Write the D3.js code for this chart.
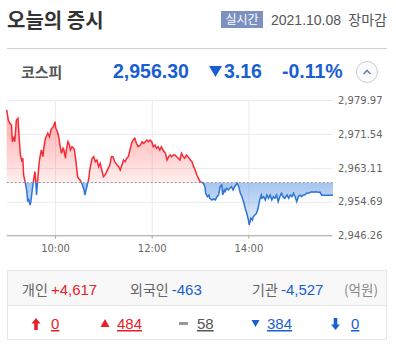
<!DOCTYPE html>
<html><head><meta charset="utf-8">
<script src="https://cdn.jsdelivr.net/npm/d3@7"></script>
<style>body{margin:0;background:#fff;overflow:hidden}</style>
</head><body><svg id="c" width="396" height="348"></svg>
<script>
// minutes after 09:00
const minutes = [0,2,4,6,7,9,10,12,14,15,17,19,20,21,23,25,26,27,29,30,32,34,35,36,37,38,40,41,43,45,46,48,50,51,53,55,56,58,60,61,63,65,66,68,70,71,73,74,76,78,79,81,83,84,86,88,89,91,93,94,96,97,98,100,102,103,
106,108,110,112,114,116,118,120,122,124,126,128,130,132,134,137,139,141,143,145,147,149,151,153,155,157,159,161,163,166,168,170,172,174,176,178,180,182,184,186,188,190,192,194,197,199,201,203,205,207,209,211,213,215,217,219,221,223,225,228,230,232,234,236,238,240,242,244,246,247,249,251,252,255,257,259,261,263,265,267,268,270,271,273,275,277,279,281,283,286,288,290,292,294,296,298,300,301,303,305,306,308,310,312,314,316,317,319,321,323,325,327,329,331,333,335,337,339,341,343,345,348,350,352,354,356,358,360,362,364,366,368,370,372,374,377,379,381,383,387,389,391,405];
const prices = [2977.49,2975.00,2974.18,2973.76,2969.61,2970.85,2969.61,2975.00,2975.42,2972.10,2966.31,2964.64,2965.49,2961.34,2959.53,2957.19,2954.71,2955.55,2953.89,2954.71,2958.04,2960.92,2962.16,2960.10,2956.37,2958.86,2963.82,2965.49,2967.55,2965.89,2967.97,2970.46,2971.28,2971.70,2970.85,2972.52,2972.94,2973.34,2974.58,2972.94,2972.10,2970.46,2968.79,2966.73,2967.97,2967.55,2965.49,2967.55,2969.61,2968.79,2967.55,2968.37,2967.97,2967.55,2964.64,2960.92,2960.52,2960.10,2959.28,2958.86,2957.61,2956.37,2957.19,2958.86,2960.52,2962.58,
2965.49,2965.89,2964.64,2965.07,2963.40,2964.25,2962.58,2960.92,2961.34,2962.16,2963.00,2963.82,2965.89,2965.89,2964.64,2963.82,2963.40,2962.58,2963.82,2965.07,2964.64,2965.49,2965.89,2967.55,2969.21,2970.03,2970.46,2969.21,2968.37,2968.79,2969.61,2969.21,2969.61,2970.03,2969.61,2970.03,2969.61,2968.37,2968.79,2967.97,2968.37,2967.55,2968.37,2967.55,2966.73,2965.07,2965.89,2966.31,2965.89,2966.31,2966.31,2965.89,2965.49,2965.07,2966.73,2965.89,2965.49,2966.31,2965.89,2965.07,2964.64,2963.40,2962.58,2961.34,2960.52,2959.68,2959.53,2959.28,2958.43,2956.79,2955.95,2956.37,2955.55,2955.13,2955.38,2955.13,2955.95,2956.37,2958.43,2958.86,2956.37,2957.61,2957.19,2958.04,2957.61,2958.04,2958.43,2957.61,2958.43,2959.28,2958.43,2956.79,2955.95,2954.71,2953.07,2951.83,2950.16,2948.92,2950.59,2950.16,2950.98,2951.40,2951.83,2953.07,2955.13,2956.37,2955.55,2955.95,2955.13,2956.37,2955.55,2956.37,2955.13,2955.95,2955.55,2956.37,2954.71,2955.95,2956.79,2955.95,2955.55,2956.37,2955.55,2956.37,2955.95,2956.79,2955.95,2954.71,2955.95,2956.37,2955.95,2956.37,2956.37,2956.79,2956.79,2957.04,2957.19,2957.04,2957.19,2957.04,2957.04,2956.30,2956.30];
const prevClose = 2959.46;
const yTicks = [2946.26, 2954.69, 2963.11, 2971.54, 2979.97];
const xTickMinutes = [60, 180, 300];
const xTickLabels = ["10:00", "12:00", "14:00"];
const indexName = "코스피";
const indexValue = "2,956.30";
const indexChange = "3.16";
const indexRate = "-0.11%";
const investorNames = ["개인", "외국인", "기관"];
const investorValues = ["+4,617", "-463", "-4,527"];
const breadthValues = ["0", "484", "58", "384", "0"];

const svg = d3.select("#c");
const KR = "'Noto Sans CJK KR', sans-serif";
const NUM = "'Liberation Sans', Arial, sans-serif";

// header
svg.append("text").attr("x", 7).attr("y", 27.5).attr("font-family", KR).attr("font-weight", 700)
  .attr("font-size", 20).attr("fill", "#333").text("오늘의 증시");
svg.append("rect").attr("x", 221).attr("y", 11).attr("width", 42).attr("height", 17).attr("fill", "#7d90c2");
svg.append("text").attr("x", 242).attr("y", 24).attr("text-anchor", "middle").attr("font-family", KR)
  .attr("font-size", 12).attr("fill", "#fff").text("실시간");
svg.append("text").attr("x", 271).attr("y", 25).attr("font-family", NUM).attr("font-size", 14)
  .attr("fill", "#555").text("2021.10.08");
svg.append("text").attr("x", 387).attr("y", 25).attr("text-anchor", "end").attr("font-family", KR).attr("font-size", 14)
  .attr("fill", "#555").text("장마감");
svg.append("line").attr("x1", 7).attr("x2", 387).attr("y1", 48.5).attr("y2", 48.5).attr("stroke", "#cfcfcf");

// index row
svg.append("text").attr("x", 21).attr("y", 78).attr("font-family", KR).attr("font-weight", 700)
  .attr("font-size", 15).attr("fill", "#555").text(indexName);
const blue = "#1a5fd2";
svg.append("text").attr("x", 113).attr("y", 77.5).attr("font-family", NUM).attr("font-weight", 700)
  .attr("font-size", 19.5).attr("fill", blue).text(indexValue);
svg.append("path").attr("d", "M209,66 L222,66 L215.5,77 Z").attr("fill", blue);
svg.append("text").attr("x", 224).attr("y", 77.5).attr("font-family", NUM).attr("font-weight", 700)
  .attr("font-size", 19.5).attr("fill", blue).text(indexChange);
svg.append("text").attr("x", 282).attr("y", 77.5).attr("font-family", NUM).attr("font-weight", 700)
  .attr("font-size", 19.5).attr("fill", blue).text(indexRate);
svg.append("circle").attr("cx", 367).attr("cy", 72).attr("r", 10.5).attr("fill", "#fafbfd").attr("stroke", "#c9cdd6");
svg.append("path").attr("d", "M363.5,74 L367,70.5 L370.5,74").attr("fill", "none").attr("stroke", "#6b86b8").attr("stroke-width", 1.6);

// chart
const x = d3.scaleLinear().domain([0, 405]).range([6.7, 333]);
const y = d3.scaleLinear().domain([2946.26, 2979.97]).range([235.7, 100]);
const data = minutes.map((m, i) => ({m, v: prices[i]}));
const yb = y(prevClose);

const defs = svg.append("defs");
const gr = defs.append("linearGradient").attr("id", "gr").attr("gradientUnits", "userSpaceOnUse")
  .attr("x1", 0).attr("x2", 0).attr("y1", 100).attr("y2", yb);
gr.append("stop").attr("offset", 0).attr("stop-color", "#ff4d4d").attr("stop-opacity", 0.55);
gr.append("stop").attr("offset", 1).attr("stop-color", "#ff4d4d").attr("stop-opacity", 0.1);
const gb = defs.append("linearGradient").attr("id", "gb").attr("gradientUnits", "userSpaceOnUse")
  .attr("x1", 0).attr("x2", 0).attr("y1", yb).attr("y2", 235.7);
gb.append("stop").attr("offset", 0).attr("stop-color", "#4a8ae0").attr("stop-opacity", 0.5);
gb.append("stop").attr("offset", 1).attr("stop-color", "#4a8ae0").attr("stop-opacity", 0.04);
defs.append("clipPath").attr("id", "cu").append("rect").attr("x", 0).attr("y", 0).attr("width", 396).attr("height", yb);
defs.append("clipPath").attr("id", "cd").append("rect").attr("x", 0).attr("y", yb).attr("width", 396).attr("height", 348 - yb);

// y grid + labels
const ya = svg.append("g").attr("transform", "translate(333,0)")
  .call(d3.axisRight(y).tickValues(yTicks).tickSize(-326.3).tickPadding(5).tickFormat(d3.format(",.2f")));
ya.select(".domain").remove();
ya.selectAll("line").attr("stroke", "#ebebeb");
ya.selectAll("text").attr("font-family", "'DejaVu Sans', sans-serif").attr("font-size", 10).attr("fill", "#666");

// x grid + labels
const xa = svg.append("g").attr("transform", "translate(0,235.7)")
  .call(d3.axisBottom(x).tickValues(xTickMinutes).tickSize(-135.7).tickPadding(9)
    .tickFormat((d, i) => xTickLabels[i]));
xa.select(".domain").remove();
xa.selectAll("line").attr("stroke", "#ebebeb");
xa.selectAll("text").attr("font-family", "'DejaVu Sans', sans-serif").attr("font-size", 10).attr("fill", "#666");
xa.selectAll(".tick").append("line").attr("y1", 0).attr("y2", 3).attr("stroke", "#aaa");
svg.append("line").attr("x1", 6.7).attr("x2", 332).attr("y1", 235.7).attr("y2", 235.7).attr("stroke", "#aaa");

const area = d3.area().x(d => x(d.m)).y0(yb).y1(d => y(d.v));
const line = d3.line().x(d => x(d.m)).y(d => y(d.v));
svg.append("path").datum(data).attr("d", area).attr("fill", "url(#gr)").attr("clip-path", "url(#cu)");
svg.append("path").datum(data).attr("d", area).attr("fill", "url(#gb)").attr("clip-path", "url(#cd)");
svg.append("line").attr("x1", 6.7).attr("x2", 333).attr("y1", yb).attr("y2", yb)
  .attr("stroke", "#999").attr("stroke-dasharray", "2,2");
svg.append("path").datum(data).attr("d", line).attr("fill", "none").attr("stroke", "#f72a35")
  .attr("stroke-width", 1.5).attr("clip-path", "url(#cu)");
svg.append("path").datum(data).attr("d", line).attr("fill", "none").attr("stroke", "#2b74d8")
  .attr("stroke-width", 1.5).attr("clip-path", "url(#cd)");

// bottom panel
svg.append("rect").attr("x", 7.5).attr("y", 270.5).attr("width", 379).attr("height", 69).attr("fill", "#fff").attr("stroke", "#e6e6e6");
svg.append("rect").attr("x", 8).attr("y", 271).attr("width", 378).attr("height", 34).attr("fill", "#f8f8f8");
svg.append("line").attr("x1", 7.5).attr("x2", 386.5).attr("y1", 305.5).attr("y2", 305.5).attr("stroke", "#e6e6e6");

const invX = [22, 130, 252];
const invCol = ["#e8202a", "#1a5fd2", "#1a5fd2"];
investorNames.forEach((n, i) => {
  const t = svg.append("text").attr("x", invX[i]).attr("y", 295).attr("font-family", KR).attr("font-size", 14);
  t.append("tspan").attr("fill", "#666").text(n + " ");
  t.append("tspan").attr("fill", invCol[i]).attr("font-family", NUM).attr("font-size", 15).text(investorValues[i]);
});
svg.append("text").attr("x", 378).attr("y", 295).attr("text-anchor", "end").attr("font-family", KR)
  .attr("font-size", 13.5).attr("fill", "#888").text("(억원)");

const red = "#e8202a";
const bCols = [red, red, "#555", "#1a5fd2", "#1a5fd2"];
const bNumX = [51, 117, 197, 267, 351];
// icons
svg.append("path").attr("d", "M36,318 L40.5,323.5 L37.8,323.5 L37.8,330 L34.2,330 L34.2,323.5 L31.5,323.5 Z").attr("fill", red);
svg.append("path").attr("d", "M105,319 L109.5,327 L100.5,327 Z").attr("fill", red);
svg.append("rect").attr("x", 179).attr("y", 322).attr("width", 9).attr("height", 3).attr("fill", "#999");
svg.append("path").attr("d", "M251.5,320 L259.5,320 L255.5,327 Z").attr("fill", "#1a5fd2");
svg.append("path").attr("d", "M335.5,330 L340,324.5 L337.3,324.5 L337.3,318 L333.7,318 L333.7,324.5 L331,324.5 Z").attr("fill", "#1a5fd2");
breadthValues.forEach((v, i) => {
  svg.append("text").attr("x", bNumX[i]).attr("y", 329).attr("font-family", NUM).attr("font-size", 15)
    .attr("fill", bCols[i]).attr("text-decoration", "underline").text(v);
});
</script></body></html>
